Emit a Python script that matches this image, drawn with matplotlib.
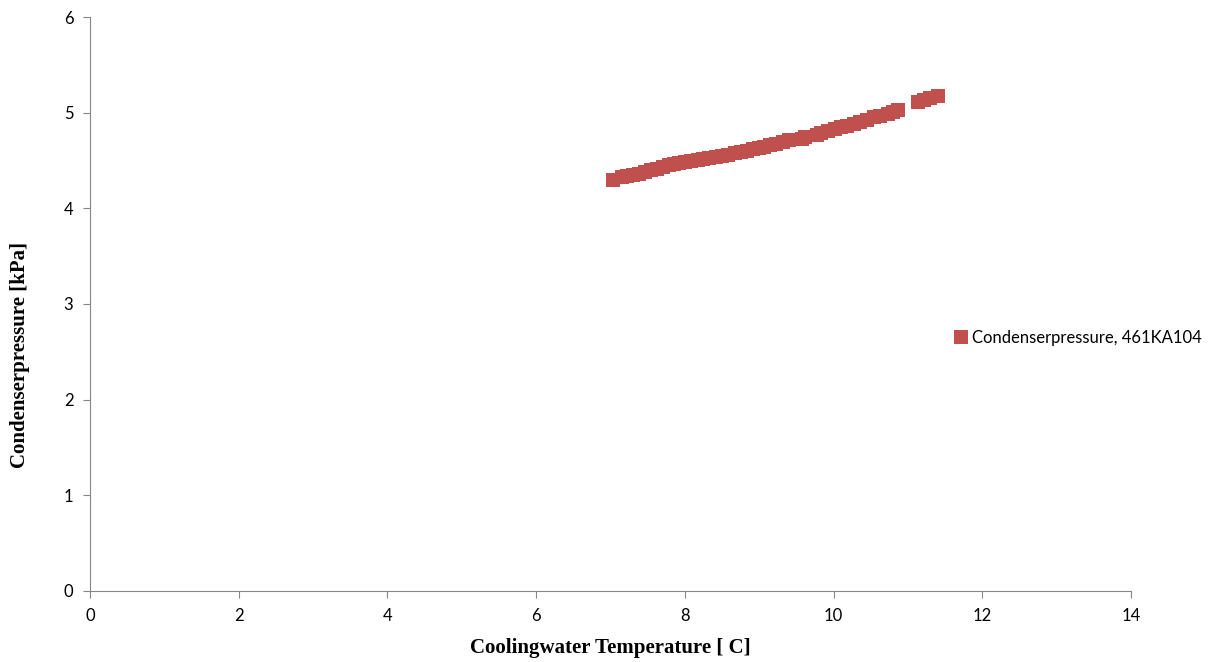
import matplotlib.pyplot as plt
import numpy as np

# cooling water temperature [C] and condenser pressure [kPa], 461KA104
temp = [7.03, 7.15, 7.22, 7.30, 7.38, 7.47, 7.55, 7.63, 7.70, 7.78, 7.85, 7.92,
        8.00, 8.08, 8.17, 8.25, 8.33, 8.42, 8.50, 8.58, 8.67, 8.75, 8.83, 8.92,
        9.00, 9.07, 9.15, 9.23, 9.32, 9.40, 9.58, 9.62, 9.78, 9.83, 9.93, 10.02,
        10.10, 10.18, 10.27, 10.35, 10.45, 10.55, 10.63, 10.73, 10.80, 10.87,
        11.13, 11.22, 11.30, 11.40]
pres = [4.30, 4.33, 4.34, 4.35, 4.36, 4.38, 4.40, 4.41, 4.43, 4.45, 4.46, 4.47,
        4.48, 4.49, 4.51, 4.52, 4.53, 4.54, 4.55, 4.56, 4.58, 4.59, 4.60, 4.62,
        4.63, 4.64, 4.66, 4.67, 4.69, 4.71, 4.73, 4.75, 4.77, 4.79, 4.81, 4.83,
        4.85, 4.86, 4.88, 4.90, 4.92, 4.95, 4.97, 4.99, 5.01, 5.03,
        5.11, 5.13, 5.15, 5.17]

fig = plt.figure(figsize=(12.23, 6.62), dpi=100)
ax = fig.add_axes([0.0736, 0.1073, 0.8512, 0.867])

ax.plot(temp, pres, 's', color='#C0504D', markersize=10.5, markeredgewidth=0,
        label='Condenserpressure, 461KA104')

ax.set_xlim(0, 14)
ax.set_ylim(0, 6)
ax.set_xticks(np.arange(0, 15, 2))
ax.set_yticks(np.arange(0, 7, 1))

for side in ['top', 'right']:
    ax.spines[side].set_visible(False)
for side in ['left', 'bottom']:
    ax.spines[side].set_color('#868686')
ax.tick_params(direction='out', length=5, color='#868686', labelsize=12, pad=7)
for lbl in ax.get_xticklabels() + ax.get_yticklabels():
    lbl.set_family('Lato')

ax.set_xlabel('Coolingwater Temperature [ C]', family='Liberation Serif',
              fontweight='bold', fontsize=15)
ax.set_ylabel('Condenserpressure [kPa]', family='Liberation Serif',
              fontweight='bold', fontsize=15)
ax.xaxis.set_label_coords(0.5, -0.082)
ax.yaxis.set_label_coords(-0.058, 0.411)

fig.legend(loc='center left', bbox_to_anchor=(0.77, 0.489), frameon=False,
           prop={'family': 'Lato', 'size': 12}, handlelength=0.55,
           handletextpad=0.35, markerscale=0.9)

fig.savefig('out.png', dpi=100)
